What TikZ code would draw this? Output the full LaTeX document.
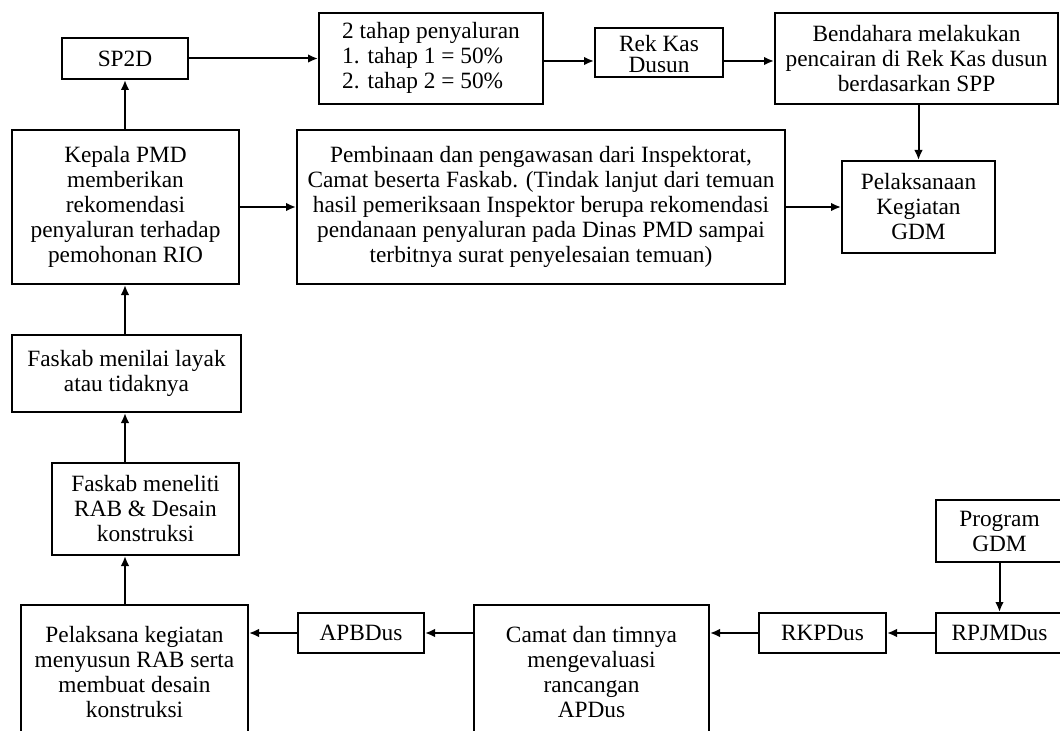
\documentclass[tikz,border=0pt]{standalone}
\usepackage{fontspec}
\setmainfont{Liberation Serif}
\usetikzlibrary{arrows.meta}

\tikzset{
  box/.style 2 args={draw, line width=1.5pt, align=center, inner sep=0pt,
    minimum width=#1*0.75pt, minimum height=#2*0.75pt,
    font=\fontsize{17.5}{18.75}\selectfont},
  flow/.style={line width=1.5pt, -{Latex[length=7.5pt,width=6.5pt]}}
}

\begin{document}
\begin{tikzpicture}[x=0.75pt,y=-0.75pt]
  \useasboundingbox (0,0) rectangle (1060,731);
  \clip (0,0) rectangle (1060,731);

  % top row
  \node[box={126}{41}] (sp2d) at (125,58.5) {SP2D};
  \node[box={224}{91}] (tahap) at (431,58.5) {%
    \begin{tabular}{@{}l@{}}2 tahap penyaluran\\1. tahap 1 = 50\%\\2. tahap 2 = 50\%\end{tabular}};
  \node[box={128}{49}] (rek) at (659,52.5) {\raisebox{-8pt}[0pt][0pt]{\begin{tabular}{@{}c@{}}Rek Kas\\[-3pt]Dusun\end{tabular}}};
  \node[box={283}{91}] (bend) at (916.5,58.5) {Bendahara melakukan\\pencairan di Rek Kas dusun\\berdasarkan SPP};

  % middle row
  \node[box={227}{154}] (kepala) at (125.5,207) {Kepala PMD\\memberikan\\rekomendasi\\penyaluran terhadap\\pemohonan RIO};
  \node[box={488}{154}] (pemb) at (541,207) {Pembinaan dan pengawasan dari Inspektorat,\\Camat beserta Faskab. (Tindak lanjut dari temuan\\hasil pemeriksaan Inspektor berupa rekomendasi\\pendanaan penyaluran pada Dinas PMD sampai\\terbitnya surat penyelesaian temuan)};
  \node[box={153}{92}] (pelak) at (918.5,207) {Pelaksanaan\\Kegiatan\\GDM};

  % left column
  \node[box={229}{77}] (menilai) at (126.5,373.5) {Faskab menilai layak\\atau tidaknya};
  \node[box={187}{92}] (meneliti) at (145.5,509) {Faskab meneliti\\RAB \& Desain\\konstruksi};

  % bottom row
  \node[box={227}{135}] (pelaksana) at (134.5,672.5) {Pelaksana kegiatan\\menyusun RAB serta\\membuat desain\\konstruksi};
  \node[box={126}{40}] (apbdus) at (361,633) {APBDus};
  \node[box={235}{135}] (camat) at (591.5,672.5) {Camat dan timnya\\mengevaluasi\\rancangan\\APDus};
  \node[box={127}{40}] (rkpdus) at (822.5,633) {RKPDus};
  \node[box={127}{40}] (rpjmdus) at (999.5,633) {RPJMDus};
  \node[box={127}{62}] (program) at (999.5,531) {Program\\GDM};

  % connectors
  \draw[flow] (sp2d.east) -- (tahap.west);
  \draw[flow] (tahap.east |- 0,61) -- (rek.west |- 0,61);
  \draw[flow] (rek.east |- 0,61) -- (bend.west |- 0,61);
  \draw[flow] (bend.south -| pelak.north) -- (pelak.north);
  \draw[flow] (kepala.north -| sp2d.south) -- (sp2d.south);
  \draw[flow] (kepala.east) -- (pemb.west);
  \draw[flow] (pemb.east) -- (pelak.west);
  \draw[flow] (menilai.north -| sp2d.south) -- (kepala.south -| sp2d.south);
  \draw[flow] (meneliti.north -| sp2d.south) -- (menilai.south -| sp2d.south);
  \draw[flow] (pelaksana.north -| sp2d.south) -- (meneliti.south -| sp2d.south);
  \draw[flow] (apbdus.west) -- (pelaksana.east |- apbdus.west);
  \draw[flow] (camat.west |- apbdus.east) -- (apbdus.east);
  \draw[flow] (rkpdus.west) -- (camat.east |- rkpdus.west);
  \draw[flow] (rpjmdus.west) -- (rkpdus.east);
  \draw[flow] (program.south) -- (rpjmdus.north);
\end{tikzpicture}
\end{document}
